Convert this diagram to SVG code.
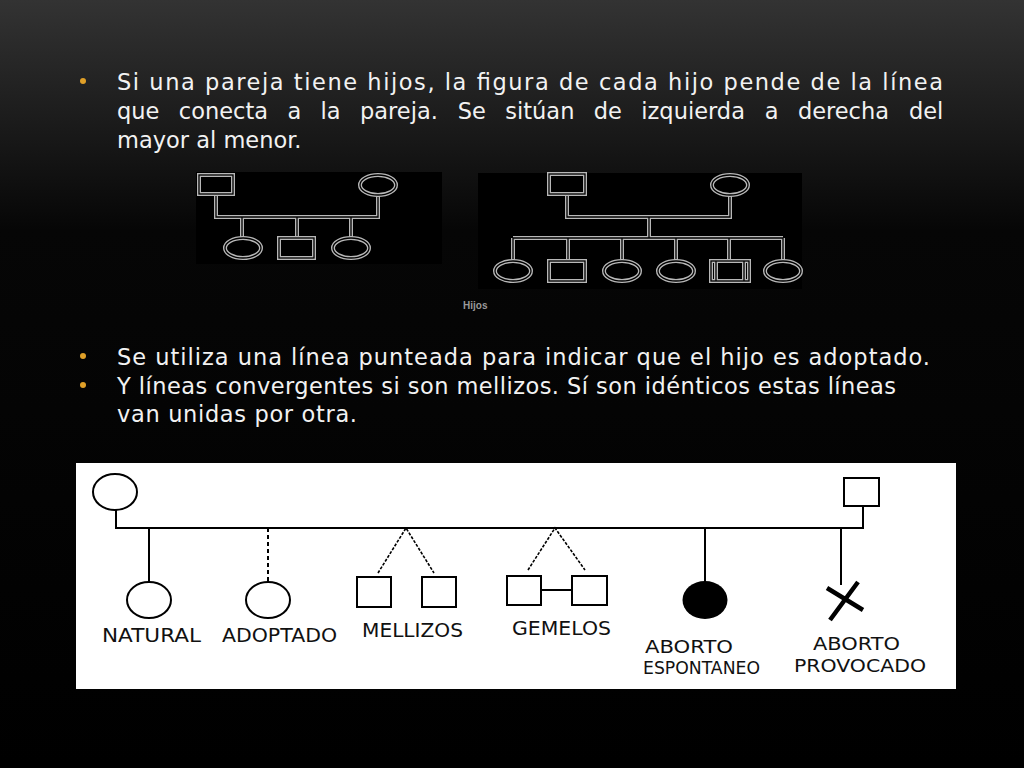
<svg xmlns="http://www.w3.org/2000/svg" width="1024" height="768" viewBox="0 0 1024 768">
<defs>
<linearGradient id="bg" x1="0" y1="0" x2="0" y2="1">
<stop offset="0" stop-color="#333333"/>
<stop offset="0.3" stop-color="#060606"/>
<stop offset="1" stop-color="#000000"/>
</linearGradient>
<style>
.body{font-family:"DejaVu Sans","Liberation Sans",sans-serif;font-size:22.5px;fill:#f2f2f2}
.bul{fill:#e0a028}
.o{fill:none;stroke:#b8b8b8;stroke-width:4}
.i{fill:none;stroke:#000;stroke-width:1.3}
.k{fill:none;stroke:#000;stroke-width:2}
.kd{fill:none;stroke:#000;stroke-width:2;stroke-dasharray:4 3}
.kg{fill:none;stroke:#000;stroke-width:1.6;stroke-dasharray:3 1.5}
.lab{font-family:"DejaVu Sans","Liberation Sans",sans-serif;font-size:20px;fill:#111}
.lab2{font-family:"DejaVu Sans","Liberation Sans",sans-serif;font-size:17.5px;fill:#111}
</style>
</defs>
<rect x="0" y="0" width="1024" height="768" fill="url(#bg)"/>

<g id="text">
<circle class="bul" cx="83" cy="81" r="3"/>
<text class="body" x="117" y="90" textLength="826" lengthAdjust="spacing">Si una pareja tiene hijos, la figura de cada hijo pende de la línea</text>
<text class="body" y="119"><tspan x="117">que</tspan><tspan x="178.8">conecta</tspan><tspan x="287.4">a</tspan><tspan x="320.6">la</tspan><tspan x="360">pareja.</tspan><tspan x="457.8">Se</tspan><tspan x="505.3">sitúan</tspan><tspan x="593.8">de</tspan><tspan x="641.3">izquierda</tspan><tspan x="764.7">a</tspan><tspan x="797.9">derecha</tspan><tspan x="908.9">del</tspan></text>
<text class="body" x="117" y="148">mayor al menor.</text>
<circle class="bul" cx="83" cy="356" r="3"/>
<text class="body" x="117" y="365" textLength="813" lengthAdjust="spacing">Se utiliza una línea punteada para indicar que el hijo es adoptado.</text>
<circle class="bul" cx="83" cy="385" r="3"/>
<text class="body" x="117" y="394" textLength="779" lengthAdjust="spacing">Y líneas convergentes si son mellizos. Sí son idénticos estas líneas</text>
<text class="body" x="117" y="422" textLength="240" lengthAdjust="spacing">van unidas por otra.</text>
</g>

<!-- top pedigree 1 -->
<g id="pedigree1">
<rect x="196" y="172" width="246" height="92" fill="#000"/>
<g id="p1-connectors">
<path class="o" d="M216 194V217H378V195M242 217V238M297 217V238M351 217V238"/>
<path class="i" d="M216 194V217H378V195M242 217V238M297 217V238M351 217V238"/>
</g>
<g id="p1-father"><rect class="o" x="199" y="175" width="34" height="19"/><rect class="i" x="199" y="175" width="34" height="19"/></g>
<g id="p1-mother"><ellipse class="o" cx="378" cy="185" rx="18" ry="10"/><ellipse class="i" cx="378" cy="185" rx="18" ry="10"/></g>
<g id="p1-child1"><ellipse class="o" cx="243" cy="248" rx="18" ry="10"/><ellipse class="i" cx="243" cy="248" rx="18" ry="10"/></g>
<g id="p1-child2"><rect class="o" x="279" y="238" width="35" height="20"/><rect class="i" x="279" y="238" width="35" height="20"/></g>
<g id="p1-child3"><ellipse class="o" cx="351" cy="248" rx="18" ry="10"/><ellipse class="i" cx="351" cy="248" rx="18" ry="10"/></g>
</g>

<!-- top pedigree 2 -->
<g id="pedigree2">
<rect x="478" y="173" width="324" height="116" fill="#000"/>
<g id="p2-connectors">
<path class="o" d="M567 194V217H730V195M649 217V238M513 238H783M513 238V261M568 238V261M622 238V261M676 238V261M729 238V261M783 238V261"/>
<path class="i" d="M567 194V217H730V195M649 217V238M513 238H783M513 238V261M568 238V261M622 238V261M676 238V261M729 238V261M783 238V261"/>
</g>
<g id="p2-father"><rect class="o" x="549" y="174" width="36" height="20"/><rect class="i" x="549" y="174" width="36" height="20"/></g>
<g id="p2-mother"><ellipse class="o" cx="730" cy="185" rx="18" ry="10"/><ellipse class="i" cx="730" cy="185" rx="18" ry="10"/></g>
<g id="p2-child1"><ellipse class="o" cx="513" cy="271" rx="18" ry="10"/><ellipse class="i" cx="513" cy="271" rx="18" ry="10"/></g>
<g id="p2-child2"><rect class="o" x="549" y="261" width="36" height="20"/><rect class="i" x="549" y="261" width="36" height="20"/></g>
<g id="p2-child3"><ellipse class="o" cx="622" cy="271" rx="18" ry="10"/><ellipse class="i" cx="622" cy="271" rx="18" ry="10"/></g>
<g id="p2-child4"><ellipse class="o" cx="676" cy="271" rx="18" ry="10"/><ellipse class="i" cx="676" cy="271" rx="18" ry="10"/></g>
<g id="p2-child5"><rect class="o" x="711" y="261" width="38" height="20"/><path class="o" d="M716 261V281M744 261V281"/><rect class="i" x="711" y="261" width="38" height="20"/><path class="i" d="M716 261V281M744 261V281"/></g>
<g id="p2-child6"><ellipse class="o" cx="783" cy="271" rx="18" ry="10"/><ellipse class="i" cx="783" cy="271" rx="18" ry="10"/></g>
<text x="463" y="309" font-family="Liberation Sans, sans-serif" font-size="10" font-weight="bold" fill="#9a9a9a">Hijos</text>
</g>

<!-- bottom legend -->
<rect x="76" y="463" width="880" height="226" fill="#ffffff"/>
<g id="legend-connectors">
<path class="k" d="M116 510V528H863V506"/>
<path class="k" d="M149 528V582"/>
<path class="kd" d="M268 528V582"/>
<path class="kg" d="M378 573L406 528L434 573"/>
<path class="kg" d="M528 570L555 528L585 570"/>
<path class="k" d="M541 590H572"/>
<path class="k" d="M705 528V583"/>
<path class="k" d="M841 528V585"/>
</g>
<g id="mother"><ellipse class="k" cx="115" cy="492" rx="22" ry="18"/></g>
<g id="father"><rect class="k" x="844" y="478" width="35" height="28"/></g>
<g id="natural"><ellipse class="k" cx="149" cy="600" rx="22" ry="18"/><text class="lab" x="102" y="642" textLength="99" lengthAdjust="spacingAndGlyphs">NATURAL</text></g>
<g id="adoptado"><ellipse class="k" cx="268" cy="600" rx="22" ry="18"/><text class="lab" x="222" y="642" textLength="115" lengthAdjust="spacingAndGlyphs">ADOPTADO</text></g>
<g id="mellizos"><rect class="k" x="357" y="577" width="34" height="30"/><rect class="k" x="422" y="577" width="34" height="30"/><text class="lab" x="362" y="637" textLength="101" lengthAdjust="spacingAndGlyphs">MELLIZOS</text></g>
<g id="gemelos"><rect class="k" x="507" y="576" width="34" height="29"/><rect class="k" x="572" y="576" width="35" height="29"/><text class="lab" x="512" y="635" textLength="99" lengthAdjust="spacingAndGlyphs">GEMELOS</text></g>
<g id="aborto-espontaneo"><ellipse cx="705" cy="600" rx="22.5" ry="19" fill="#000"/><text class="lab2" x="645" y="653" textLength="88" lengthAdjust="spacingAndGlyphs">ABORTO</text><text class="lab2" x="643" y="674" textLength="117" lengthAdjust="spacingAndGlyphs">ESPONTANEO</text></g>
<g id="aborto-provocado"><path d="M858 582L830 620M827 588L863 610" stroke="#000" stroke-width="4.5" fill="none"/><text class="lab2" x="813" y="650" textLength="87" lengthAdjust="spacingAndGlyphs">ABORTO</text><text class="lab2" x="794" y="672" textLength="132" lengthAdjust="spacingAndGlyphs">PROVOCADO</text></g>
</svg>
